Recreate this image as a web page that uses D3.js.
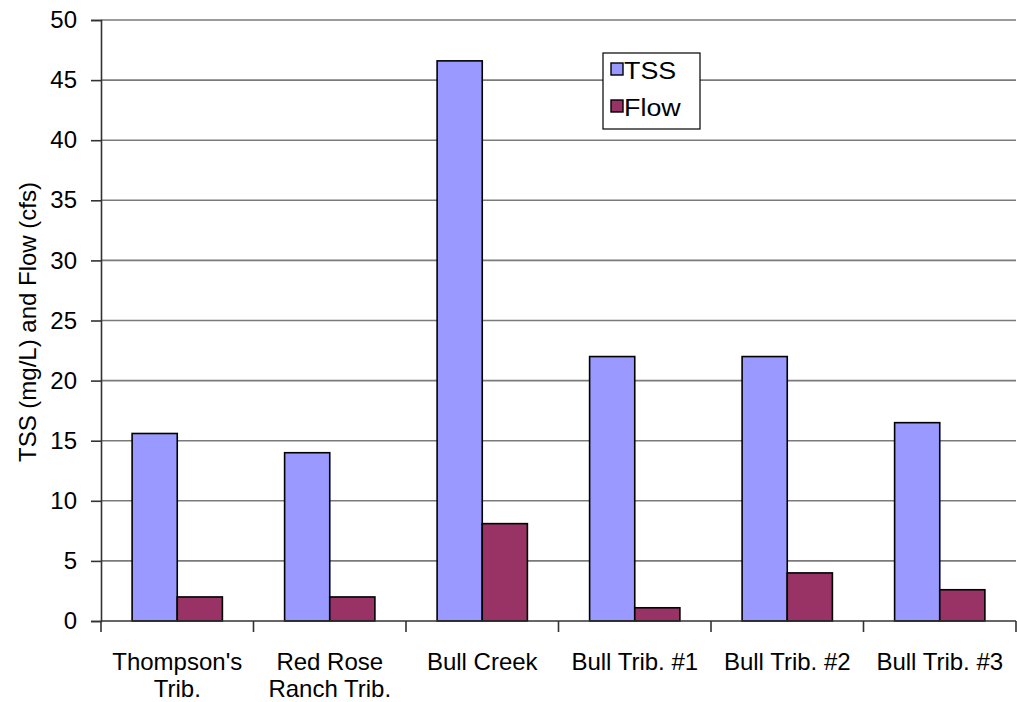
<!DOCTYPE html>
<html>
<head>
<meta charset="utf-8">
<script src="https://cdn.jsdelivr.net/npm/d3@7"></script>
<style>
  html, body { margin: 0; padding: 0; background: #fff; }
  svg { display: block; font-family: "Liberation Sans", Arial, sans-serif; }
</style>
</head>
<body>
<svg id="chart" width="1017" height="702"></svg>
<script>
// Sampling sites (label lines) and measured values
const categories = [
  ["Thompson's", "Trib."],
  ["Red Rose", "Ranch Trib."],
  ["Bull Creek"],
  ["Bull Trib. #1"],
  ["Bull Trib. #2"],
  ["Bull Trib. #3"]
];
const seriesNames = ["TSS", "Flow"];
const tssValues = [15.6, 14.0, 46.6, 22.0, 22.0, 16.5];
const flowValues = [2.0, 2.0, 8.1, 1.1, 4.0, 2.6];
const yTicks = [0, 5, 10, 15, 20, 25, 30, 35, 40, 45, 50];
const yTitle = "TSS (mg/L) and Flow (cfs)";

const colors = { TSS: "#9999FF", Flow: "#993366" };
const FONT = 24;

const svg = d3.select("#chart");
const plot = { left: 101, right: 1016, top: 20, bottom: 621 };

const x0 = d3.scaleBand()
  .domain(d3.range(categories.length))
  .range([plot.left, plot.right])
  .paddingInner(0.408)
  .paddingOuter(0.204);

const x1 = d3.scaleBand()
  .domain(seriesNames)
  .range([0, x0.bandwidth()])
  .padding(0);

const y = d3.scaleLinear().domain([0, 50]).range([plot.bottom, plot.top]);

// Horizontal gridlines
svg.append("g")
  .selectAll("line")
  .data(yTicks.filter(d => d > 0))
  .join("line")
  .attr("x1", plot.left).attr("x2", plot.right)
  .attr("y1", d => y(d)).attr("y2", d => y(d))
  .attr("stroke", "#7a7a7a")
  .attr("stroke-width", 1.6);

// Bars
const rows = categories.map((c, i) => ({ i, TSS: tssValues[i], Flow: flowValues[i] }));
const groups = svg.append("g")
  .selectAll("g")
  .data(rows)
  .join("g")
  .attr("transform", d => `translate(${x0(d.i)},0)`);

groups.selectAll("rect")
  .data(d => seriesNames.map(k => ({ key: k, value: d[k] })))
  .join("rect")
  .attr("x", d => x1(d.key))
  .attr("y", d => y(d.value))
  .attr("width", x1.bandwidth())
  .attr("height", d => y(0) - y(d.value))
  .attr("fill", d => colors[d.key])
  .attr("stroke", "#000")
  .attr("stroke-width", 1.6);

// Y axis
const yAxis = d3.axisLeft(y).tickValues(yTicks).tickSize(10).tickPadding(14).tickFormat(d3.format("d"));
const gy = svg.append("g")
  .attr("transform", `translate(${plot.left},0)`)
  .call(yAxis);
gy.select(".domain").attr("stroke", "#333").attr("stroke-width", 1.6);
gy.selectAll(".tick line").attr("stroke", "#333").attr("stroke-width", 1.6);
gy.selectAll(".tick text")
  .attr("font-size", FONT)
  .attr("fill", "#000")
  .attr("font-family", "Liberation Sans, Arial, sans-serif");

// X axis baseline with category dividers
svg.append("line")
  .attr("x1", plot.left).attr("x2", plot.right)
  .attr("y1", y(0)).attr("y2", y(0))
  .attr("stroke", "#333").attr("stroke-width", 1.6);

const step = x0.step();
svg.append("g")
  .selectAll("line")
  .data(d3.range(categories.length + 1))
  .join("line")
  .attr("x1", i => plot.left + i * step)
  .attr("x2", i => plot.left + i * step)
  .attr("y1", y(0)).attr("y2", y(0) + 11)
  .attr("stroke", "#333").attr("stroke-width", 1.6);

// Category labels
const xl = svg.append("g")
  .selectAll("text")
  .data(categories)
  .join("text")
  .attr("x", (d, i) => x0(i) + x0.bandwidth() / 2)
  .attr("y", 670)
  .attr("text-anchor", "middle")
  .attr("font-size", FONT)
  .attr("fill", "#000");
xl.selectAll("tspan")
  .data(d => d)
  .join("tspan")
  .attr("x", function () { return this.parentNode.getAttribute("x"); })
  .attr("dy", (d, j) => j === 0 ? 0 : 27)
  .text(d => d);

// Y axis title
svg.append("text")
  .attr("transform", `translate(36,322) rotate(-90)`)
  .attr("text-anchor", "middle")
  .attr("font-size", FONT)
  .attr("fill", "#000")
  .text(yTitle);

// Legend
const legend = svg.append("g").attr("transform", "translate(603,53)");
legend.append("rect")
  .attr("width", 97).attr("height", 76)
  .attr("fill", "#fff").attr("stroke", "#000").attr("stroke-width", 1.2);
const items = legend.selectAll("g")
  .data(seriesNames)
  .join("g")
  .attr("transform", (d, i) => `translate(8,${10 + i * 37})`);
items.append("rect")
  .attr("width", 12).attr("height", 12)
  .attr("fill", d => colors[d])
  .attr("stroke", "#000").attr("stroke-width", 1.4);
items.append("text")
  .attr("transform", "translate(13,16) scale(1.12,1)")
  .attr("font-size", 24)
  .attr("fill", "#000")
  .text(d => d);
</script>
</body>
</html>
